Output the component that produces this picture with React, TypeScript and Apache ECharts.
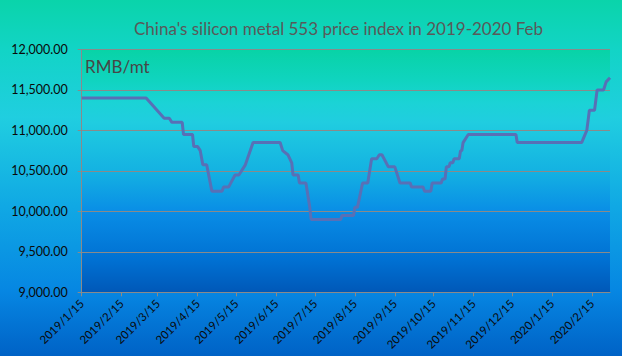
import React, { useEffect, useRef } from "react";
import * as echarts from "echarts";

const dates = [
  "2019-01-15", "2019-03-06", "2019-03-20", "2019-03-24", "2019-03-26", "2019-04-03",
  "2019-04-04", "2019-04-11", "2019-04-12", "2019-04-15", "2019-04-17", "2019-04-19",
  "2019-04-22", "2019-04-26", "2019-05-04", "2019-05-05", "2019-05-09", "2019-05-14",
  "2019-05-17", "2019-05-22", "2019-05-28", "2019-06-18", "2019-06-20", "2019-06-24",
  "2019-06-27", "2019-06-28", "2019-07-02", "2019-07-03", "2019-07-08", "2019-07-11",
  "2019-07-12", "2019-08-04", "2019-08-05", "2019-08-14", "2019-08-15", "2019-08-17",
  "2019-08-21", "2019-08-25", "2019-08-28", "2019-09-01", "2019-09-03", "2019-09-05",
  "2019-09-10", "2019-09-15", "2019-09-19", "2019-09-27", "2019-09-28", "2019-10-07",
  "2019-10-08", "2019-10-13", "2019-10-14", "2019-10-21", "2019-10-22", "2019-10-24",
  "2019-10-25", "2019-10-27", "2019-10-28", "2019-10-30", "2019-10-31", "2019-11-04",
  "2019-11-05", "2019-11-06", "2019-11-07", "2019-11-11", "2019-12-18", "2019-12-19",
  "2020-02-07", "2020-02-11", "2020-02-13", "2020-02-17", "2020-02-19", "2020-02-24",
  "2020-02-26", "2020-02-29",
];

const prices = [
  11400, 11400, 11150, 11150, 11100, 11100,
  10950, 10950, 10800, 10800, 10750, 10575,
  10575, 10250, 10250, 10300, 10300, 10450,
  10450, 10575, 10850, 10850, 10750, 10700,
  10600, 10450, 10450, 10350, 10350, 10050,
  9900, 9900, 9950, 9950, 10050, 10050,
  10350, 10350, 10650, 10650, 10700, 10700,
  10550, 10550, 10350, 10350, 10300, 10300,
  10250, 10250, 10350, 10350, 10400, 10400,
  10550, 10550, 10600, 10600, 10650, 10650,
  10750, 10750, 10850, 10950, 10950, 10850,
  10850, 11000, 11250, 11250, 11500, 11500,
  11600, 11650,
];

const tickLabels = [
  "2019/1/15", "2019/2/15", "2019/3/15", "2019/4/15", "2019/5/15", "2019/6/15",
  "2019/7/15", "2019/8/15", "2019/9/15", "2019/10/15", "2019/11/15", "2019/12/15",
  "2020/1/15", "2020/2/15",
];

const startDate = "2019-01-15";
const endDate = "2020-02-29";

const titleText = "China's silicon metal 553 price index in 2019-2020 Feb";
const unitText = "RMB/mt";

const FONT = "Lato, 'Open Sans', sans-serif";

function dayIndex(s: string): number {
  const [y, m, d] = s.split(/[-\/]/).map(Number);
  const base = startDate.split("-").map(Number);
  return (Date.UTC(y, m - 1, d) - Date.UTC(base[0], base[1] - 1, base[2])) / 86400000;
}

export default function App() {
  const ref = useRef<HTMLDivElement>(null);
  useEffect(() => {
    if (!ref.current) return;
    const chart = echarts.init(ref.current, null, { renderer: "svg" });
    const tickPos = tickLabels.map(dayIndex);
    const labelMap: Record<number, string> = {};
    tickLabels.forEach((t) => (labelMap[dayIndex(t)] = t));
    const fmt = new Intl.NumberFormat("en-US", { minimumFractionDigits: 2, maximumFractionDigits: 2 });
    const axisGray = "#8a8a8a";

    chart.setOption({
      animation: false,
      backgroundColor: new echarts.graphic.LinearGradient(0, 0, 0, 1, [
        { offset: 0, color: "#0ad4aa" },
        { offset: 0.14, color: "#12d4c6" },
        { offset: 0.33, color: "#20cee0" },
        { offset: 0.58, color: "#10a8e4" },
        { offset: 0.82, color: "#0686e2" },
        { offset: 1, color: "#0062c6" },
      ]),
      title: {
        text: titleText,
        left: 129,
        top: 15,
        textStyle: { fontFamily: FONT, fontSize: 17, fontWeight: "normal", color: "#595959" },
      },
      grid: {
        left: 81.7,
        right: 12,
        top: 49.5,
        bottom: 63.7,
        containLabel: false,
        outerBoundsMode: "none",
        show: true,
        borderWidth: 0,
        backgroundColor: new echarts.graphic.LinearGradient(0, 0, 0, 1, [
          { offset: 0, color: "#08d3a6" },
          { offset: 0.13, color: "#10d4c0" },
          { offset: 0.22, color: "#1bd3d6" },
          { offset: 0.3, color: "#20cde0" },
          { offset: 0.5, color: "#14b2e2" },
          { offset: 0.67, color: "#098de6" },
          { offset: 0.87, color: "#0070d2" },
          { offset: 1, color: "#0058b8" },
        ]),
      },
      graphic: [
        {
          type: "text",
          left: 85,
          top: 58,
          style: { text: unitText, fontFamily: FONT, fontSize: 17, fill: "#474747" },
        },
      ],
      xAxis: {
        type: "value",
        min: 0,
        max: dayIndex(endDate),
        axisLine: { show: true, lineStyle: { color: axisGray, width: 1 } },
        axisTick: { show: true, length: 4, customValues: tickPos, lineStyle: { color: axisGray } },
        axisLabel: {
          customValues: tickPos,
          rotate: 45,
          margin: 9,
          fontFamily: FONT,
          fontSize: 11.5,
          color: "#0a0a0a",
          formatter: (v: number) => labelMap[v] ?? "",
        },
        splitLine: { show: false },
      },
      yAxis: {
        type: "value",
        min: 9000,
        max: 12000,
        interval: 500,
        axisLine: { show: true, lineStyle: { color: axisGray, width: 1 } },
        axisTick: { show: true, length: 4, lineStyle: { color: axisGray } },
        axisLabel: {
          margin: 14,
          fontFamily: FONT,
          fontSize: 12.5,
          color: "#0a0a0a",
          formatter: (v: number) => fmt.format(v),
        },
        splitLine: { show: true, lineStyle: { color: axisGray, width: 1 } },
      },
      series: [
        {
          type: "line",
          data: dates.map((d, i) => [dayIndex(d), prices[i]]),
          symbol: "none",
          lineStyle: { color: "#5870b6", width: 3 },
        },
      ],
    });
    return () => chart.dispose();
  }, []);
  return <div ref={ref} style={{ width: 622, height: 356, position: "absolute", left: 0, top: 0 }} />;
}
